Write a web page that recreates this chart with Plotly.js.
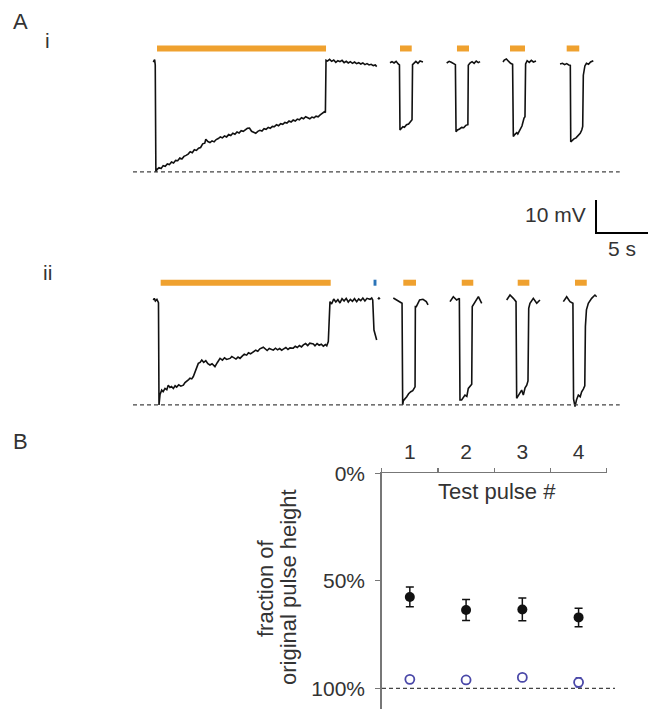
<!DOCTYPE html>
<html>
<head>
<meta charset="utf-8">
<script src="https://cdn.plot.ly/plotly-3.0.1.min.js"></script>
<style>html,body{margin:0;padding:0;background:#fff;}#chart{width:649px;height:709px;}</style>
</head>
<body>
<div id="chart"></div>
<script>
// ---------- Panel A(i): membrane potential trace (time s, mV relative to rest) ----------
const traceI_t = [1.95,2.0,2.08,2.14,2.2,
 2.3,2.5,2.7,2.9,3.1,3.3,3.5,3.7,3.9,4.1,4.3,4.5,4.7,4.9,5.1,5.3,5.5,5.7,5.9,6.1,6.3,6.5,6.7,6.9,7.0,7.2,7.4,7.6,7.8,8.0,8.2,8.4,8.6,8.8,9.0,9.2,9.4,9.6,9.8,10.0,10.2,10.4,10.6,10.8,11.0,11.2,11.4,11.6,11.8,12.0,12.2,12.4,12.6,12.8,13.0,13.2,13.4,13.6,13.8,14.0,14.2,14.4,14.6,14.8,15.0,15.2,15.4,15.6,15.8,16.0,16.2,16.4,16.6,16.8,17.0,17.2,17.4,17.6,17.8,18.0,18.2,18.4,18.5,
 18.56,18.7,18.9,19.1,19.3,19.5,19.7,19.9,20.1,20.3,20.5,20.7,20.9,21.1,21.3,21.5,21.7,21.9,22.1,22.3,22.5,22.7,22.9,23.1,23.3,23.43,null,
 24.71,24.9,25.1,25.3,25.5,25.62,25.67,25.8,25.95,26.1,26.3,26.5,26.7,26.83,26.88,27.0,27.2,27.4,27.6,27.88,null,
 30.16,30.4,30.6,30.8,31.0,31.06,31.2,31.4,31.6,31.8,32.0,32.2,32.24,32.4,32.6,32.8,33.0,33.2,33.37,null,
 35.58,35.7,35.9,36.1,36.3,36.5,36.57,36.7,36.9,37.0,37.2,37.4,37.6,37.69,37.75,37.9,38.1,38.3,38.5,38.75,null,
 41.06,41.3,41.5,41.7,41.9,42.05,42.09,42.2,42.4,42.6,42.8,43.0,43.15,43.24,43.3,43.45,43.6,43.8,44.0,44.26];
const traceI_v = [0.0,0.4,0.7,-0.9,-33.3,
 -32.6,-32.0,-32.3,-31.4,-31.6,-30.9,-31.1,-30.3,-30.6,-29.8,-29.9,-29.1,-29.4,-28.6,-28.3,-27.9,-27.2,-27.5,-26.6,-26.8,-26.1,-25.9,-24.8,-24.6,-23.4,-24.1,-24.4,-23.9,-24.2,-23.5,-23.2,-22.7,-23.0,-22.4,-22.7,-22.0,-22.3,-21.6,-21.9,-21.2,-21.5,-20.8,-21.0,-20.4,-20.1,-20.0,-21.0,-21.3,-21.6,-21.0,-20.7,-20.9,-20.2,-20.4,-19.8,-20.1,-19.5,-19.6,-19.0,-19.3,-18.7,-18.9,-18.3,-18.5,-17.9,-18.2,-17.6,-17.9,-17.3,-17.5,-16.9,-17.2,-16.6,-16.9,-17.2,-16.7,-16.9,-16.4,-16.6,-16.0,-15.4,-15.1,-15.3,
 0.5,0.3,0.8,0.2,0.6,-0.1,0.4,0.1,0.5,-0.2,0.2,-0.3,0.1,-0.4,0.0,-0.5,-0.2,-0.6,-0.3,-0.8,-0.5,-0.9,-0.7,-1.1,-0.9,-1.4,null,
 -0.2,0.1,-0.3,0.2,-0.6,-0.9,-20.6,-20.1,-19.6,-19.8,-19.0,-18.8,-18.1,-17.5,-0.8,-0.3,0.2,-0.4,0.3,0.0,null,
 -0.3,0.2,-0.1,-0.5,-0.8,-21.1,-20.6,-20.3,-19.8,-19.9,-19.2,-19.0,-1.0,-0.3,0.1,-0.4,0.3,-0.2,0.1,null,
 0.0,0.6,0.9,0.2,-0.4,-0.7,-22.6,-22.0,-21.4,-21.8,-20.6,-19.4,-17.0,-16.6,-0.6,0.4,-0.1,0.5,0.0,0.3,null,
 -0.6,-0.4,-0.8,-0.5,-0.9,-1.0,-24.2,-23.8,-23.3,-23.0,-22.2,-21.6,-20.6,-19.5,-4.0,-1.2,-0.4,-0.7,0.0,0.4];

// ---------- Panel A(ii) ----------
const traceII_t = [1.95,2.05,2.15,2.3,2.45,2.5,2.6,2.76,2.9,3.08,3.25,3.39,3.55,3.7,3.88,4.05,4.2,4.4,4.6,4.84,5.0,5.2,5.35,5.48,5.65,5.8,5.95,6.1,6.28,6.45,6.61,6.8,7.0,7.2,7.4,7.6,7.88,8.1,8.37,8.6,8.8,9.0,9.33,9.5,9.7,9.9,10.1,10.29,10.5,10.7,10.93,11.1,11.3,11.57,11.8,12.0,12.2,12.53,12.7,12.9,13.1,13.3,13.49,13.7,13.9,14.1,14.3,14.45,14.7,14.9,15.1,15.41,15.6,15.8,16.0,16.2,16.38,16.6,16.8,17.0,17.34,17.5,17.7,17.9,18.1,18.3,18.5,18.63,18.78,
 18.94,19.1,19.3,19.5,19.7,19.9,20.1,20.3,20.5,20.7,20.9,21.1,21.3,21.51,21.7,21.9,22.1,22.3,22.5,22.79,22.95,23.05,23.17,23.3,23.43,null,
 23.55,23.65,23.75,null,
 25.03,25.35,25.67,25.87,25.93,26.0,26.32,26.5,26.71,26.9,27.03,27.12,27.15,27.24,27.56,27.88,28.2,28.37,null,
 30.48,30.8,31.12,31.38,31.44,31.6,31.92,32.1,32.24,32.45,32.57,32.62,32.89,33.21,33.53,null,
 35.93,36.25,36.57,36.83,36.89,37.05,37.2,37.37,37.53,37.7,37.86,37.98,38.05,38.17,38.49,38.82,39.13,null,
 41.38,41.7,42.02,42.3,42.36,42.5,42.65,42.82,43.0,43.14,43.3,43.44,43.5,43.6,43.78,44.1,44.42,44.58];
const traceII_v = [0.0,0.5,-0.3,0.2,-0.8,-31.8,-28.6,-27.3,-27.8,-26.8,-27.2,-25.8,-26.5,-26.2,-26.8,-26.0,-26.4,-25.7,-26.1,-25.8,-25.0,-24.6,-24.1,-23.7,-23.9,-23.2,-22.0,-20.5,-19.2,-18.9,-18.2,-18.9,-18.4,-19.3,-19.7,-19.3,-20.2,-19.0,-17.7,-18.2,-17.5,-18.0,-17.7,-17.1,-17.6,-17.9,-17.3,-17.7,-17.0,-16.4,-16.7,-16.0,-16.3,-15.7,-15.2,-15.5,-14.8,-14.3,-14.9,-15.3,-14.7,-15.0,-15.2,-14.6,-15.1,-14.7,-15.2,-14.9,-14.4,-15.0,-14.5,-14.6,-14.0,-14.4,-13.8,-14.2,-13.6,-13.2,-13.8,-13.1,-13.3,-13.9,-13.2,-13.7,-13.4,-14.0,-13.5,-13.9,-12.6,
 -0.5,-1.2,0.3,-0.6,0.1,-0.9,0.4,-0.3,0.5,-0.6,0.2,-0.4,0.4,-0.5,0.3,-0.2,0.6,-0.3,0.5,0.2,0.6,0.0,-9.1,-10.5,-12.1,null,
 0.2,0.6,0.3,null,
 0.6,0.0,-0.5,-1.0,-31.8,-30.5,-29.3,-28.4,-27.8,-27.5,-26.8,-26.3,-2.0,-2.0,0.0,0.2,-0.5,-1.5,null,
 -0.5,1.0,0.0,0.5,-30.3,-30.3,-28.8,-29.2,-26.8,-26.0,-25.5,-2.0,-0.5,1.0,-1.0,null,
 0.0,1.5,0.5,-0.5,-29.8,-29.0,-28.0,-27.3,-28.8,-26.6,-25.8,-24.5,-2.5,-1.0,0.5,-1.0,0.0,null,
 -0.5,1.0,-0.5,-1.0,-30.0,-32.3,-30.2,-28.8,-29.3,-27.8,-27.0,-26.0,-8.0,-3.0,-1.0,0.5,1.5,1.0];

// Stimulus bars (start, end in s)
const stimI_on  = [2.31, 25.67, 31.15, 36.25, 41.7];
const stimI_off = [18.56, 26.8, 32.31, 37.69, 42.91];
const stimII_on  = [2.66, 25.99, 31.61, 36.99, 42.5];
const stimII_off = [19.01, 27.21, 32.72, 38.11, 43.63];
const blueII_on = [23.13], blueII_off = [23.41];
const stimLevelI = 4.1, stimLevelII = 5.24;

// Dashed baselines (peak hyperpolarisation level), time extent
const baselineT = [0, 46.8];
const baselineI = -33.3, baselineII = -31.8;

// Scale bar
const scaleMV = 10, scaleS = 5, scaleT0 = 44.52, scaleV0 = -51.8;

// ---------- Panel B ----------
const pulseNum = [1, 2, 3, 4];
const pulseTickLabels = ['1', '2', '3', '4'];
const filledMean = [57.5, 63.6, 63.3, 67.0];
const filledErr  = [4.6, 4.9, 5.3, 4.3];
const openMean = [95.8, 96.1, 94.9, 97.2];
const openErr  = [1.0, 1.5, 1.5, 2.2];
const yTickVals = [0, 50, 100];
const yTickText = ['0%', '50%', '100%'];
const referenceLevel = 100;

// ---------- build ----------
function barSeries(on, off, level) {
  const x = [], y = [];
  for (let i = 0; i < on.length; i++) { x.push(on[i], off[i], null); y.push(level, level, null); }
  return {x, y};
}
const ORANGE = '#EFA12F', BLUE = '#2B74B8', INK = '#111', OPEN = '#4A48A8';
const FONT = 'Liberation Sans, Arial, sans-serif';
const TXT = '#333';

const bI = barSeries(stimI_on, stimI_off, stimLevelI);
const bII = barSeries(stimII_on, stimII_off, stimLevelII);
const bBlue = barSeries(blueII_on, blueII_off, stimLevelII);

const data = [
  {x: traceI_t, y: traceI_v, xaxis: 'x', yaxis: 'y', mode: 'lines', line: {color: INK, width: 1.6}, connectgaps: false, hoverinfo: 'skip'},
  {x: bI.x, y: bI.y, xaxis: 'x', yaxis: 'y', mode: 'lines', line: {color: ORANGE, width: 6}, hoverinfo: 'skip'},
  {x: baselineT, y: [baselineI, baselineI], xaxis: 'x', yaxis: 'y', mode: 'lines', line: {color: '#444', width: 1.2, dash: '4px,3px'}, hoverinfo: 'skip'},
  {x: [scaleT0, scaleT0, scaleT0 + scaleS], y: [scaleV0 + scaleMV, scaleV0, scaleV0], xaxis: 'x', yaxis: 'y', mode: 'lines', line: {color: '#000', width: 2}, hoverinfo: 'skip'},
  {x: traceII_t, y: traceII_v, xaxis: 'x', yaxis: 'y3', mode: 'lines', line: {color: INK, width: 1.6}, connectgaps: false, hoverinfo: 'skip'},
  {x: bII.x, y: bII.y, xaxis: 'x', yaxis: 'y3', mode: 'lines', line: {color: ORANGE, width: 6}, hoverinfo: 'skip'},
  {x: bBlue.x, y: bBlue.y, xaxis: 'x', yaxis: 'y3', mode: 'lines', line: {color: BLUE, width: 6}, hoverinfo: 'skip'},
  {x: baselineT, y: [baselineII, baselineII], xaxis: 'x', yaxis: 'y3', mode: 'lines', line: {color: '#444', width: 1.2, dash: '4px,3px'}, hoverinfo: 'skip'},
  {x: pulseNum, y: filledMean, xaxis: 'x2', yaxis: 'y2', mode: 'markers', type: 'scatter',
   marker: {color: '#111', size: 10, symbol: 'circle'},
   error_y: {type: 'data', array: filledErr, visible: true, color: '#111', thickness: 1.5, width: 4}, cliponaxis: false},
  {x: pulseNum, y: openMean, xaxis: 'x2', yaxis: 'y2', mode: 'markers', type: 'scatter',
   marker: {color: '#fff', size: 9, symbol: 'circle', line: {color: OPEN, width: 1.8}},
   error_y: {type: 'data', array: openErr, visible: true, color: OPEN, thickness: 1.3, width: 3}, cliponaxis: false}
];

const W = 649, H = 709;
const px = v => v / W, py = v => 1 - v / H;

const layout = {
  width: W, height: H,
  margin: {l: 0, r: 0, t: 0, b: 0},
  paper_bgcolor: '#fff', plot_bgcolor: 'rgba(0,0,0,0)',
  showlegend: false,
  font: {family: FONT, color: TXT},
  xaxis: {domain: [0, 1], range: [-12.788, 49.615], visible: false, anchor: 'y', fixedrange: true},
  yaxis: {domain: [py(240), 1], range: [-53.94, 18.79], visible: false, anchor: 'x', fixedrange: true},
  yaxis3: {domain: [py(430), py(240)], range: [-39.39, 18.18], visible: false, anchor: 'x', fixedrange: true},
  xaxis2: {domain: [px(381.7), px(606.7)], range: [0.5, 4.5], anchor: 'y2', side: 'top',
    showline: true, linecolor: '#777', linewidth: 1.5, showgrid: false, zeroline: false,
    tickmode: 'array', tickvals: pulseNum, ticktext: pulseTickLabels, ticks: '',
    tickfont: {family: FONT, size: 21, color: TXT}, ticklabelstandoff: 4,
    minor: {tickmode: 'linear', tick0: 0.5, dtick: 1, ticks: 'outside', ticklen: 4, tickcolor: '#777', tickwidth: 1.2, showgrid: false}},
  yaxis2: {domain: [0, py(473.3)], range: [109.6, 0], anchor: 'x2',
    showline: true, linecolor: '#777', linewidth: 1.5, showgrid: false, zeroline: false,
    tickmode: 'array', tickvals: yTickVals, ticktext: yTickText, ticks: 'outside', ticklen: 5, tickcolor: '#777', tickwidth: 1.2,
    tickfont: {family: FONT, size: 21, color: TXT}, ticklabelstandoff: 6},
  shapes: [
    {type: 'line', xref: 'paper', yref: 'y2', x0: px(382), x1: px(615), y0: referenceLevel, y1: referenceLevel,
     line: {color: '#444', width: 1.2, dash: '4px,3px'}}
  ],
  annotations: [
    {text: 'A', xref: 'paper', yref: 'paper', x: px(20.5), y: py(21.5), showarrow: false, font: {size: 22, color: TXT}, xanchor: 'center', yanchor: 'middle'},
    {text: 'i', xref: 'paper', yref: 'paper', x: px(47), y: py(40), showarrow: false, font: {size: 21, color: TXT}, xanchor: 'center', yanchor: 'middle'},
    {text: 'ii', xref: 'paper', yref: 'paper', x: px(47), y: py(272), showarrow: false, font: {size: 21, color: TXT}, xanchor: 'center', yanchor: 'middle'},
    {text: 'B', xref: 'paper', yref: 'paper', x: px(20), y: py(441), showarrow: false, font: {size: 22, color: TXT}, xanchor: 'center', yanchor: 'middle'},
    {text: '10 mV', xref: 'paper', yref: 'paper', x: px(588), y: py(215), showarrow: false, font: {size: 21, color: TXT}, xanchor: 'right', yanchor: 'middle'},
    {text: '5 s', xref: 'paper', yref: 'paper', x: px(622), y: py(248), showarrow: false, font: {size: 21, color: TXT}, xanchor: 'center', yanchor: 'middle'},
    {text: 'Test pulse #', xref: 'paper', yref: 'paper', x: px(497.5), y: py(491.7), showarrow: false, font: {size: 22, color: TXT}, xanchor: 'center', yanchor: 'middle'},
    {text: 'fraction of', xref: 'paper', yref: 'paper', x: px(265), y: py(589), showarrow: false, textangle: -90, font: {size: 22, color: TXT}, xanchor: 'center', yanchor: 'middle'},
    {text: 'original pulse height', xref: 'paper', yref: 'paper', x: px(288), y: py(587), showarrow: false, textangle: -90, font: {size: 22, color: TXT}, xanchor: 'center', yanchor: 'middle'}
  ]
};

Plotly.newPlot('chart', data, layout, {staticPlot: true, displayModeBar: false});
</script>
</body>
</html>
